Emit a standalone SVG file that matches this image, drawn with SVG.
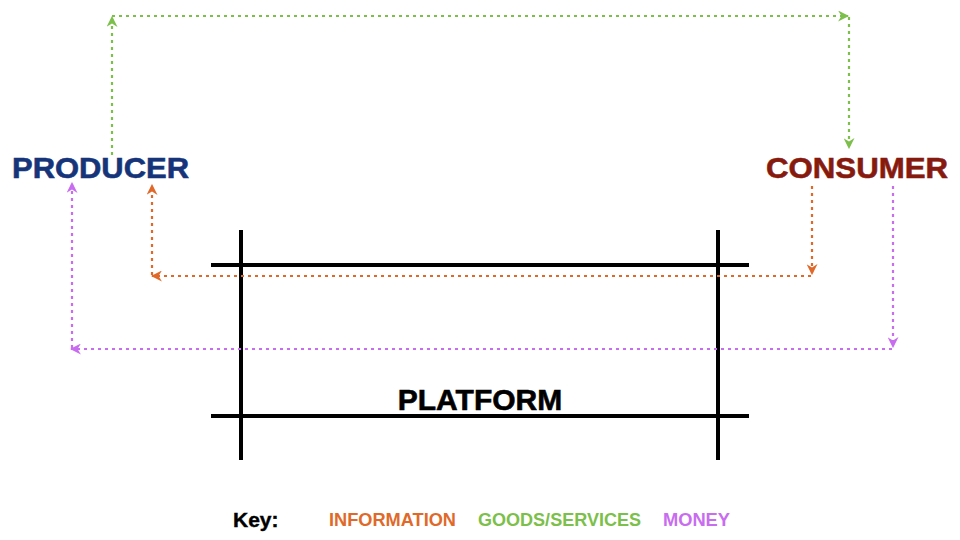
<svg xmlns="http://www.w3.org/2000/svg" width="960" height="540" viewBox="0 0 960 540">
<style>
.t{font-family:"Liberation Sans",Arial,sans-serif;font-weight:bold}
.c{fill:none;stroke-width:2.2;stroke-dasharray:3 4}
.pl{stroke:#000;stroke-width:4;fill:none}
</style>
<defs>
<marker id="ag" viewBox="0 0 10 10" refX="9" refY="5" markerWidth="5" markerHeight="5" orient="auto" markerUnits="strokeWidth"><path d="M0,0L10,5L0,10L3,5z" fill="#7cbf4a"/></marker>
<marker id="ao" viewBox="0 0 10 10" refX="9" refY="5" markerWidth="5" markerHeight="5" orient="auto" markerUnits="strokeWidth"><path d="M0,0L10,5L0,10L3,5z" fill="#e0692a"/></marker>
<marker id="ap" viewBox="0 0 10 10" refX="9" refY="5" markerWidth="5" markerHeight="5" orient="auto" markerUnits="strokeWidth"><path d="M0,0L10,5L0,10L3,5z" fill="#c86cf0"/></marker>
</defs>
<rect width="960" height="540" fill="#fff"/>
<g id="platform">
<line class="pl" x1="241" y1="230" x2="241" y2="460"/>
<line class="pl" x1="718" y1="230" x2="718" y2="460"/>
<line class="pl" x1="211" y1="265" x2="749" y2="265"/>
<line class="pl" x1="211" y1="416" x2="749" y2="416"/>
<text class="t" x="480" y="410" font-size="30" text-anchor="middle" fill="#000" stroke="#000" stroke-width="0.6">PLATFORM</text>
</g>
<g id="producer"><text class="t" x="12" y="178" font-size="30" textLength="177" lengthAdjust="spacingAndGlyphs" fill="#15347a" stroke="#15347a" stroke-width="0.6">PRODUCER</text></g>
<g id="consumer"><text class="t" x="766" y="178" font-size="30" textLength="182" lengthAdjust="spacingAndGlyphs" fill="#861a0e" stroke="#861a0e" stroke-width="0.6">CONSUMER</text></g>
<g id="connectors">
<g stroke="#7cbf4a">
<line class="c" x1="112" y1="155" x2="112" y2="17" marker-end="url(#ag)"/>
<line class="c" x1="112" y1="16" x2="848" y2="16" marker-end="url(#ag)"/>
<line class="c" x1="849" y1="17" x2="849" y2="148" marker-end="url(#ag)"/>
</g>
<g stroke="#e0692a">
<line class="c" x1="812" y1="186" x2="812" y2="274" marker-end="url(#ao)"/>
<line class="c" x1="811" y1="276" x2="152" y2="276" marker-end="url(#ao)"/>
<line class="c" x1="152" y1="275" x2="152" y2="185" marker-end="url(#ao)"/>
</g>
<g stroke="#c86cf0">
<line class="c" x1="893" y1="186" x2="893" y2="347" marker-end="url(#ap)"/>
<line class="c" x1="892" y1="349" x2="71" y2="349" marker-end="url(#ap)"/>
<line class="c" x1="72" y1="348" x2="72" y2="183" marker-end="url(#ap)"/>
</g>
</g>
<g id="key">
<text class="t" x="233" y="527" font-size="21" fill="#000" stroke="#000" stroke-width="0.4">Key:</text>
<text class="t" x="329" y="526" font-size="18" textLength="127" lengthAdjust="spacingAndGlyphs" fill="#e0692a">INFORMATION</text>
<text class="t" x="478" y="526" font-size="18" textLength="163" lengthAdjust="spacingAndGlyphs" fill="#7cbf4a">GOODS/SERVICES</text>
<text class="t" x="663" y="526" font-size="18" textLength="67" lengthAdjust="spacingAndGlyphs" fill="#c86cf0">MONEY</text>
</g>
</svg>
